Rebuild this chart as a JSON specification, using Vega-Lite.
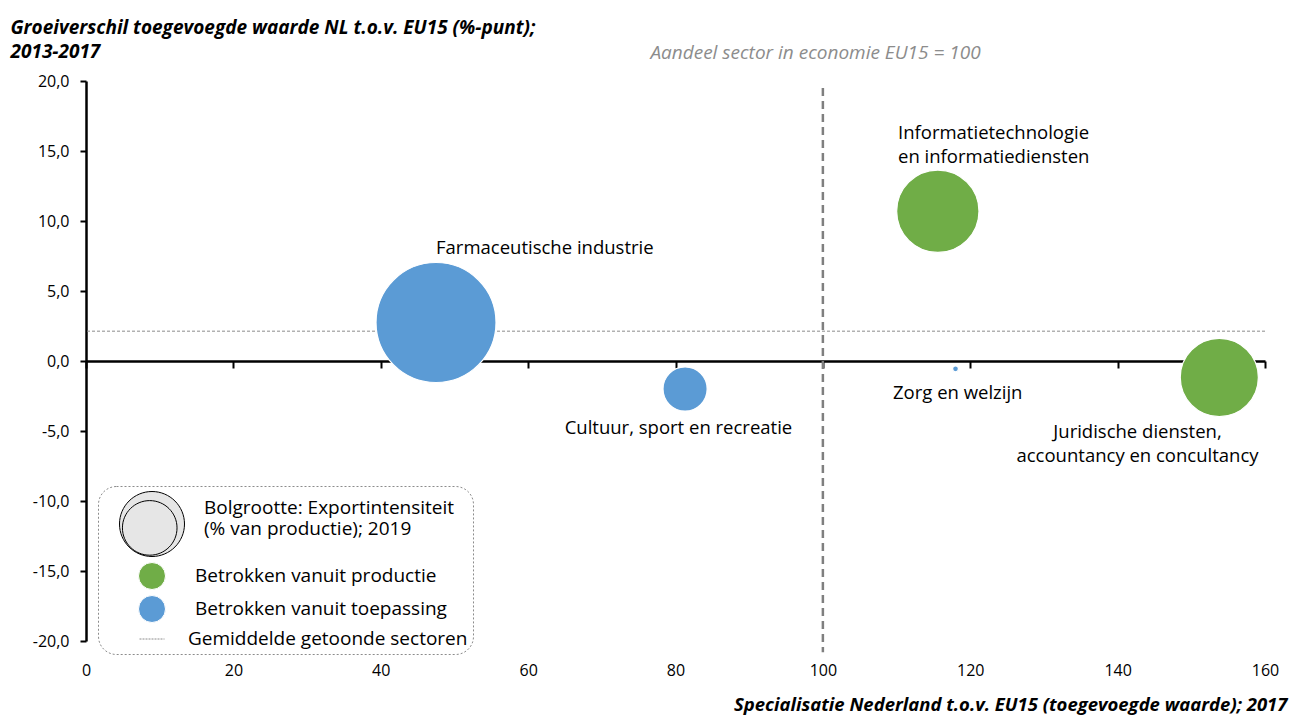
{
  "$schema": "https://vega.github.io/schema/vega-lite/v6.json",
  "width": 1179,
  "height": 560,
  "autosize": {"type": "none"},
  "padding": {"left": 86, "top": 81, "right": 37, "bottom": 81},
  "background": "white",
  "config": {
    "font": "Open Sans",
    "view": {"stroke": null},
    "locale": {"number": {"decimal": ",", "thousands": ".", "grouping": [3], "currency": ["€ ", ""], "minus": "-"}},
    "axis": {"labelFont": "Open Sans", "labelFontSize": 16, "labelColor": "#000000", "titleFont": "Open Sans", "grid": false, "labelFlush": false},
    "legend": {
      "orient": "none",
      "legendX": 12,
      "legendY": 405,
      "strokeColor": "#8c8c8c",
      "strokeDash": [2, 2],
      "cornerRadius": 18,
      "padding": 5,
      "rowPadding": 1,
      "symbolOffset": 16,
      "labelFont": "Open Sans",
      "labelFontSize": 19,
      "labelColor": "#000000",
      "labelLimit": 400,
      "labelOffset": 10,
      "titleFontSize": 0
    }
  },
  "datasets": {
    "sectoren": [
      {"sector": "Farmaceutische industrie", "spec": 47.5, "groei": 2.75, "export": 85, "groep": "Betrokken vanuit toepassing", "lx": 47.5, "ly": 8.1, "label": "Farmaceutische industrie"},
      {"sector": "Cultuur, sport en recreatie", "spec": 81.3, "groei": -2.0, "export": 11.5, "groep": "Betrokken vanuit toepassing", "lx": 80.4, "ly": -4.75, "label": "Cultuur, sport en recreatie"},
      {"sector": "Informatietechnologie en informatiediensten", "spec": 115.6, "groei": 10.7, "export": 40, "groep": "Betrokken vanuit productie", "lx": 110.2, "ly": 16.3, "label": ["Informatietechnologie", "en informatiediensten"]},
      {"sector": "Zorg en welzijn", "spec": 118.0, "groei": -0.56, "export": 0.2, "groep": "Betrokken vanuit toepassing", "lx": 118.3, "ly": -2.3, "label": "Zorg en welzijn"},
      {"sector": "Juridische diensten, accountancy en concultancy", "spec": 153.8, "groei": -1.18, "export": 36, "groep": "Betrokken vanuit productie", "lx": 142.7, "ly": -5.1, "label": ["Juridische diensten,", "accountancy en concultancy"]}
    ],
    "gemiddelde": [{"groei": 2.13}],
    "referentie": [{"spec": 100, "ytop": 19.5, "ybottom": -20.8}],
    "notitie": [{"spec": 99, "groei": 22.0, "tekst": "Aandeel sector in economie EU15 = 100"}]
  },
  "layer": [
    {
      "data": {"name": "gemiddelde"},
      "mark": {"type": "rule", "color": "#8c8c8c", "strokeWidth": 1, "strokeDash": [3, 2]},
      "encoding": {
        "y": {
          "field": "groei", "type": "quantitative", "scale": {"domain": [-20, 20], "nice": false},
          "axis": {
            "values": [-20, -15, -10, -5, 0, 5, 10, 15, 20], "format": ".1f",
            "domainColor": "#000000", "domainWidth": 2.5, "tickColor": "#000000", "tickWidth": 2, "tickSize": 6, "labelPadding": 11,
            "title": ["Groeiverschil toegevoegde waarde NL t.o.v. EU15 (%-punt);", "2013-2017"],
            "titleFontSize": 19, "titleFontWeight": "bold", "titleFontStyle": "italic", "titleColor": "#000000",
            "titleAngle": 0, "titleAnchor": null, "titleAlign": "left", "titleBaseline": "alphabetic",
            "titleX": -76, "titleY": -48, "titleLineHeight": 24
          }
        }
      }
    },
    {
      "data": {"name": "referentie"},
      "mark": {"type": "rule", "color": "#7f7f7f", "strokeWidth": 2.5, "strokeDash": [8, 5], "clip": false},
      "encoding": {
        "x": {
          "field": "spec", "type": "quantitative",
          "scale": {"domain": [0, 160], "nice": false, "zero": false},
          "axis": {"orient": "bottom", "offset": -280, "labels": false, "domain": true, "domainColor": "#000000", "domainWidth": 2.5, "ticks": true, "tickColor": "#000000", "tickWidth": 2, "tickSize": 7, "values": [0, 20, 40, 60, 80, 100, 120, 140, 160], "title": null}
        },
        "y": {"field": "ytop", "type": "quantitative"},
        "y2": {"field": "ybottom"}
      }
    },
    {
      "data": {"name": "sectoren"},
      "mark": {"type": "circle", "opacity": 1, "stroke": "#ffffff", "strokeWidth": 1.2},
      "encoding": {
        "x": {
          "field": "spec", "type": "quantitative",
          "axis": {
            "orient": "bottom", "domain": false, "ticks": false, "tickSize": 0, "labelPadding": 21, "labelFlush": false,
            "values": [0, 20, 40, 60, 80, 100, 120, 140, 160],
            "title": "Specialisatie Nederland t.o.v. EU15 (toegevoegde waarde); 2017",
            "titleFontSize": 18.5, "titleFontWeight": "bold", "titleFontStyle": "italic", "titleColor": "#000000",
            "titleAnchor": null, "titleAlign": "right", "titleBaseline": "alphabetic", "titleX": 1201, "titleY": 69
          }
        },
        "y": {"field": "groei", "type": "quantitative"},
        "size": {"field": "export", "type": "quantitative", "scale": {"domain": [0, 100], "range": [0, 16941]}, "legend": null},
        "color": {
          "field": "groep", "type": "nominal",
          "scale": {
            "domain": ["Bolgrootte", "Betrokken vanuit productie", "Betrokken vanuit toepassing", "Gemiddelde getoonde sectoren"],
            "range": ["#e6e6e6", "#70ad47", "#5b9bd5", "#8c8c8c"]
          },
          "legend": {
            "title": null,
            "labelExpr": "datum.value === 'Bolgrootte' ? ['Bolgrootte: Exportintensiteit', '(% van productie); 2019'] : datum.label",
            "labelLineHeight": 25,
            "symbolSize": {"expr": "(datum === 'Bolgrootte' || datum.value === 'Bolgrootte') ? 4225 : (datum === 'Gemiddelde getoonde sectoren' || datum.value === 'Gemiddelde getoonde sectoren') ? 625 : 729"},
            "encoding": {
              "symbols": {
                "shape": {"value": {"expr": "datum.value === 'Bolgrootte' ? 'M-1,0A1,1,0,1,0,1,0A1,1,0,1,0,-1,0ZM-0.91,0.12A0.84,0.84,0,1,0,0.77,0.12A0.84,0.84,0,1,0,-0.91,0.12Z' : datum.value === 'Gemiddelde getoonde sectoren' ? 'stroke' : 'circle'"}},
                "stroke": {"value": {"expr": "datum.value === 'Bolgrootte' ? '#000000' : datum.value === 'Gemiddelde getoonde sectoren' ? '#8c8c8c' : '#ffffff'"}},
                "strokeWidth": {"value": 1},
                "strokeDash": {"value": {"expr": "datum.value === 'Gemiddelde getoonde sectoren' ? [2, 1] : []"}}
              },
              "labels": {
                "dy": {"value": {"expr": "datum.value === 'Bolgrootte' ? -16 : 0"}},
                "dx": {"value": {"expr": "datum.value === 'Bolgrootte' ? 9 : datum.value === 'Gemiddelde getoonde sectoren' ? -7 : 0"}}
              }
            }
          }
        }
      }
    },
    {
      "data": {"name": "sectoren"},
      "transform": [{"filter": {"field": "sector", "oneOf": ["Farmaceutische industrie", "Informatietechnologie en informatiediensten"]}}],
      "mark": {"type": "text", "align": "left", "baseline": "middle", "fontSize": 18.5, "lineHeight": 24, "color": "#000000"},
      "encoding": {
        "x": {"field": "lx", "type": "quantitative", "axis": null},
        "y": {"field": "ly", "type": "quantitative"},
        "text": {"field": "label", "type": "nominal"}
      }
    },
    {
      "data": {"name": "sectoren"},
      "transform": [{"filter": {"not": {"field": "sector", "oneOf": ["Farmaceutische industrie", "Informatietechnologie en informatiediensten"]}}}],
      "mark": {"type": "text", "align": "center", "baseline": "middle", "fontSize": 18.5, "lineHeight": 24, "color": "#000000"},
      "encoding": {
        "x": {"field": "lx", "type": "quantitative", "axis": null},
        "y": {"field": "ly", "type": "quantitative"},
        "text": {"field": "label", "type": "nominal"}
      }
    },
    {
      "data": {"name": "notitie"},
      "mark": {"type": "text", "align": "center", "baseline": "middle", "fontSize": 19, "fontStyle": "italic", "color": "#8c8c8c", "clip": false},
      "encoding": {
        "x": {"field": "spec", "type": "quantitative", "axis": null},
        "y": {"field": "groei", "type": "quantitative"},
        "text": {"field": "tekst", "type": "nominal"}
      }
    }
  ],
  "resolve": {"axis": {"x": "independent"}}
}
